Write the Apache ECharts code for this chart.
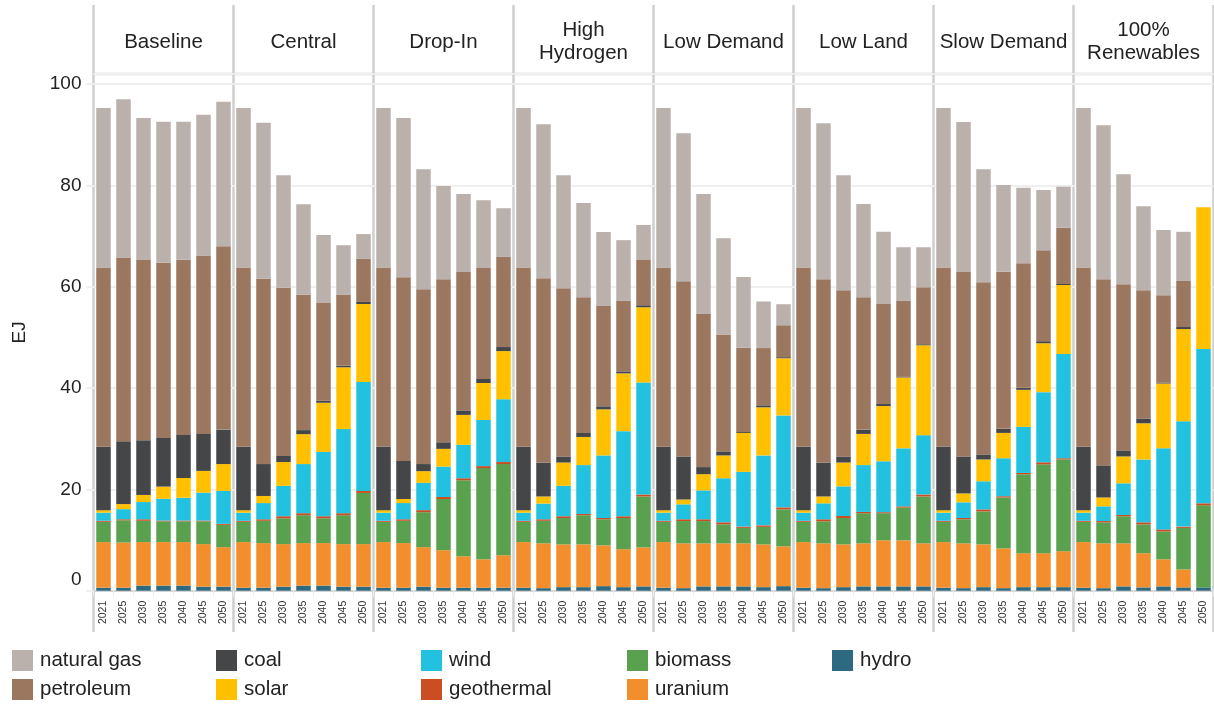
<!DOCTYPE html>
<html><head><meta charset="utf-8">
<script src="https://cdn.jsdelivr.net/npm/echarts@6/dist/echarts.min.js"></script>
<style>html,body{margin:0;padding:0;background:#fff}#c{width:1214px;height:704px}</style>
</head><body><div id="c"></div>
<script>
const scenarios = ['Baseline', 'Central', 'Drop-In', 'High\nHydrogen', 'Low Demand', 'Low Land', 'Slow Demand', '100%\nRenewables'];
const years = ['2021', '2025', '2030', '2035', '2040', '2045', '2050'];
const yTicks = [0, 20, 40, 60, 80, 100];

// values in EJ, one inner array per scenario (same order as scenarios), one value per year
const naturalGas = [
  [31.5, 31.2, 28.0, 27.8, 27.2, 27.8, 28.5],
  [31.5, 30.8, 22.2, 17.9, 13.4, 9.8, 4.9],
  [31.5, 31.4, 23.7, 18.4, 15.4, 13.4, 9.6],
  [31.5, 30.4, 22.3, 18.6, 14.6, 11.9, 6.8],
  [31.5, 29.2, 23.7, 19.0, 14.0, 9.2, 4.15],
  [31.5, 30.8, 22.7, 18.4, 14.25, 10.5, 7.9],
  [31.5, 29.6, 22.3, 17.15, 14.9, 11.9, 8.1],
  [31.5, 30.4, 21.7, 16.6, 12.9, 9.7, 0]
];
const petroleum = [
  [35.4, 36.3, 35.6, 34.6, 34.6, 35.2, 36.2],
  [35.4, 36.6, 33.2, 26.7, 19.3, 14.0, 8.5],
  [35.4, 36.3, 34.5, 32.2, 27.3, 21.9, 17.8],
  [35.4, 36.4, 33.2, 26.8, 19.8, 14.0, 9.05],
  [35.4, 34.6, 30.2, 23.1, 16.6, 11.3, 6.3],
  [35.4, 36.2, 32.8, 26.2, 19.75, 15.0, 11.25],
  [35.4, 36.4, 34.0, 31.0, 24.6, 17.95, 11.1],
  [35.4, 36.75, 32.8, 25.3, 17.2, 9.1, 0]
];
const coal = [
  [12.5, 12.4, 10.8, 9.6, 8.5, 7.3, 6.8],
  [12.5, 6.3, 1.2, 0.8, 0.4, 0.3, 0.4],
  [12.5, 7.5, 1.4, 1.3, 0.9, 0.8, 0.8],
  [12.5, 6.7, 1.2, 0.8, 0.6, 0.4, 0.4],
  [12.5, 8.5, 1.4, 0.8, 0.2, 0.4, 0.2],
  [12.5, 6.7, 1.2, 0.8, 0.4, 0.2, 0.2],
  [12.5, 7.3, 1.0, 0.8, 0.4, 0.4, 0.2],
  [12.5, 6.35, 1.2, 0.95, 0.2, 0.4, 0]
];
const solar = [
  [0.5, 1.0, 1.4, 2.4, 3.9, 4.3, 5.3],
  [0.5, 1.4, 4.7, 5.9, 9.7, 12.2, 15.4],
  [0.5, 0.8, 2.3, 3.5, 5.9, 7.3, 9.5],
  [0.5, 1.4, 4.6, 5.55, 9.1, 11.4, 14.85],
  [0.5, 0.95, 3.2, 4.5, 7.7, 9.5, 11.3],
  [0.5, 1.35, 4.7, 6.15, 10.9, 14.0, 17.75],
  [0.5, 1.75, 4.3, 5.0, 7.3, 9.65, 13.6],
  [0.5, 1.75, 5.3, 7.15, 12.8, 18.2, 28.0]
];
const wind = [
  [1.6, 2.0, 3.4, 4.3, 4.5, 5.5, 6.5],
  [1.6, 3.2, 6.0, 9.7, 12.7, 16.6, 21.5],
  [1.6, 3.2, 5.4, 6.0, 6.6, 9.1, 12.4],
  [1.6, 3.1, 6.0, 9.65, 12.35, 16.8, 22.1],
  [1.6, 2.95, 5.7, 8.7, 10.8, 13.8, 18.15],
  [1.6, 3.15, 5.85, 9.25, 10.05, 11.45, 11.7],
  [1.6, 3.1, 5.55, 7.5, 9.1, 13.85, 20.6],
  [1.6, 2.9, 6.25, 12.4, 16.0, 20.8, 30.45]
];
const geothermal = [
  [0.2, 0.2, 0.3, 0.15, 0.15, 0.15, 0.2],
  [0.2, 0.3, 0.4, 0.4, 0.4, 0.4, 0.4],
  [0.2, 0.3, 0.4, 0.4, 0.4, 0.4, 0.4],
  [0.2, 0.3, 0.35, 0.25, 0.25, 0.35, 0.4],
  [0.2, 0.35, 0.35, 0.4, 0.25, 0.3, 0.4],
  [0.2, 0.4, 0.4, 0.25, 0.2, 0.25, 0.4],
  [0.2, 0.25, 0.4, 0.25, 0.25, 0.4, 0.25],
  [0.2, 0.25, 0.25, 0.4, 0.4, 0.25, 0.4]
];
const biomass = [
  [4.0, 4.4, 4.2, 4.1, 4.1, 4.5, 4.4],
  [4.0, 4.4, 5.1, 5.5, 4.9, 5.7, 10.1],
  [4.0, 4.4, 6.9, 10.1, 15.0, 18.0, 18.0],
  [4.0, 4.45, 5.2, 5.75, 5.15, 6.15, 10.05],
  [4.0, 4.4, 4.4, 3.75, 3.05, 3.45, 7.3],
  [4.0, 4.35, 5.2, 5.95, 5.35, 6.45, 9.25],
  [4.0, 4.75, 6.5, 10.05, 15.6, 17.55, 18.1],
  [4.0, 4.15, 5.35, 5.7, 5.5, 8.2, 16.2]
];
const uranium = [
  [9.0, 8.9, 8.6, 8.6, 8.6, 8.4, 7.8],
  [9.0, 8.8, 8.4, 8.4, 8.4, 8.4, 8.4],
  [9.0, 8.8, 7.8, 7.4, 6.2, 5.6, 6.4],
  [9.0, 8.85, 8.45, 8.45, 8.05, 7.5, 7.7],
  [9.0, 8.85, 8.5, 8.5, 8.5, 8.45, 7.85],
  [9.0, 8.85, 8.45, 8.5, 9.1, 9.1, 8.5],
  [9.0, 8.85, 8.45, 7.85, 6.7, 6.7, 7.1],
  [9.0, 8.85, 8.5, 6.75, 5.35, 3.55, 0]
];
const hydro = [
  [0.6, 0.6, 1.0, 1.0, 1.0, 0.8, 0.8],
  [0.6, 0.6, 0.8, 1.0, 1.0, 0.8, 0.8],
  [0.6, 0.6, 0.8, 0.6, 0.6, 0.6, 0.6],
  [0.6, 0.5, 0.7, 0.7, 0.9, 0.7, 0.85],
  [0.6, 0.5, 0.85, 0.85, 0.85, 0.7, 0.9],
  [0.6, 0.5, 0.7, 0.85, 0.85, 0.85, 0.85],
  [0.6, 0.5, 0.7, 0.5, 0.7, 0.7, 0.7],
  [0.6, 0.5, 0.85, 0.65, 0.85, 0.65, 0.65]
];

// stacking order bottom -> top
const layers = [
  { name: 'hydro', data: hydro, color: '#2D6A82' },
  { name: 'uranium', data: uranium, color: '#F28E2B' },
  { name: 'biomass', data: biomass, color: '#59A14F' },
  { name: 'geothermal', data: geothermal, color: '#CB4D22' },
  { name: 'wind', data: wind, color: '#22C1DF' },
  { name: 'solar', data: solar, color: '#FFC000' },
  { name: 'coal', data: coal, color: '#454648' },
  { name: 'petroleum', data: petroleum, color: '#9C775F' },
  { name: 'natural gas', data: naturalGas, color: '#BAB0AC' }
];
// legend columns (as in the reference, read top-to-bottom, left-to-right)
const legendColumns = [
  ['natural gas', 'petroleum'],
  ['coal', 'solar'],
  ['wind', 'geothermal'],
  ['biomass', 'uranium'],
  ['hydro']
];

const FONT = "'Liberation Sans', Arial, sans-serif";
const PL = 93.5, PW = 140, TOP = 74, ZERO_Y = 590.7, YMAX = 102;

const grids = [], xAxes = [], yAxes = [], series = [], graphics = [];
scenarios.forEach((sc, i) => {
  grids.push({ left: PL + i * PW, top: TOP, width: PW, height: ZERO_Y - TOP });
  xAxes.push({
    type: 'category', gridIndex: i, data: years,
    axisLine: { show: true, lineStyle: { color: '#d4d4d4', width: 2 } },
    axisTick: { show: true, length: 6, lineStyle: { color: '#ececec', width: 1 } },
    axisLabel: { rotate: 90, fontSize: 10.5, color: '#333', margin: 10, fontFamily: FONT }
  });
  yAxes.push({
    type: 'value', gridIndex: i, min: 0, max: YMAX, interval: 20,
    name: i === 0 ? 'EJ' : '', nameLocation: 'middle', nameGap: 64, nameRotate: 90,
    nameTextStyle: { fontSize: 19, color: '#222', fontFamily: FONT },
    axisLine: { show: false },
    axisTick: { show: i === 0, length: 7, lineStyle: { color: '#efefef', width: 2 } },
    splitLine: { show: true, lineStyle: { color: '#efefef', width: 2 } },
    axisLabel: {
      show: i === 0, showMaxLabel: false, fontSize: 19, color: '#222', margin: 12, fontFamily: FONT,
      formatter: v => (v === 0 ? '{z|0}' : (yTicks.indexOf(v) >= 0 ? String(v) : '')),
      rich: { z: { fontSize: 19, color: '#222', fontFamily: FONT, padding: [0, 0, 22, 0] } }
    }
  });
  layers.forEach(l => {
    series.push({
      type: 'bar', name: l.name, xAxisIndex: i, yAxisIndex: i, stack: 's' + i,
      data: l.data[i], barWidth: 14.5, itemStyle: { color: l.color },
      emphasis: { disabled: true }, animation: false
    });
  });
  graphics.push({
    type: 'text',
    x: PL + i * PW + PW / 2, y: 42,
    style: { text: sc, align: 'center', verticalAlign: 'middle', fontSize: 20.5, lineHeight: 23, fill: '#222', fontFamily: FONT }
  });
});
for (let i = 0; i <= scenarios.length; i++) {
  graphics.push({ type: 'line', shape: { x1: PL + i * PW, y1: 5, x2: PL + i * PW, y2: 632 }, style: { stroke: '#cfcfcf', lineWidth: 2.5 } });
}
graphics.push({ type: 'line', shape: { x1: PL, y1: TOP, x2: PL + scenarios.length * PW, y2: TOP }, style: { stroke: '#cfcfcf', lineWidth: 2.5 } });

const legendLefts = [12, 216, 421, 627, 832];
const legends = legendColumns.map((col, c) => ({
  left: legendLefts[c], top: 650, orient: 'vertical', data: col,
  itemWidth: 21, itemHeight: 21, itemGap: 8, icon: 'rect', selectedMode: false, padding: 0,
  textStyle: { fontSize: 20.5, color: '#222', fontFamily: FONT, padding: [0, 0, 0, 2] }
}));

const chart = echarts.init(document.getElementById('c'), null, { renderer: 'canvas' });
chart.setOption({
  animation: false,
  textStyle: { fontFamily: FONT },
  grid: grids, xAxis: xAxes, yAxis: yAxes, series: series,
  legend: legends,
  graphic: graphics
});
</script></body></html>
